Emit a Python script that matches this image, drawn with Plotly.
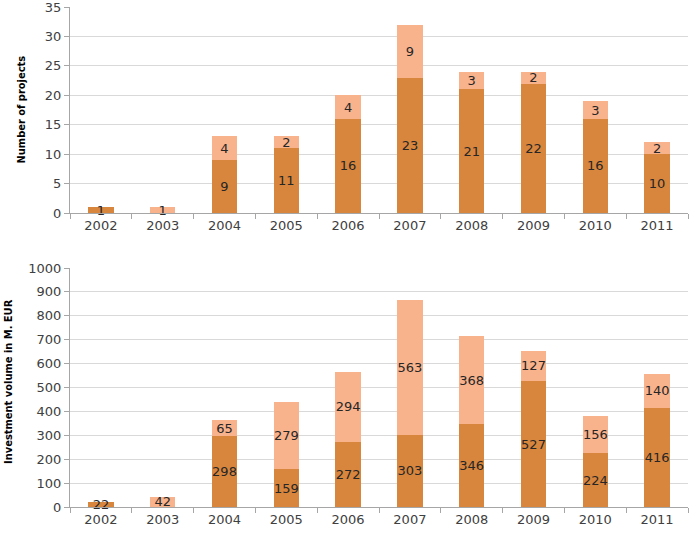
import plotly.graph_objects as go
from plotly.subplots import make_subplots

years = ["2002", "2003", "2004", "2005", "2006", "2007", "2008", "2009", "2010", "2011"]
projects_dark = [1, 0, 9, 11, 16, 23, 21, 22, 16, 10]
projects_light = [0, 1, 4, 2, 4, 9, 3, 2, 3, 2]
invest_dark = [22, 0, 298, 159, 272, 303, 346, 527, 224, 416]
invest_light = [0, 42, 65, 279, 294, 563, 368, 127, 156, 140]

DARK = "#D8853D"
LIGHT = "#F8B28C"

def lbl(vals):
    return [str(v) if v else "" for v in vals]

fig = make_subplots(rows=2, cols=1, vertical_spacing=0.11)

W, H = 695, 542
ml, mr, mt, mb = 70, 7, 7, 35
pw = W - ml - mr
ph = H - mt - mb

bar_kw = dict(width=0.41, textposition="inside", insidetextanchor="middle",
              constraintext="none", textangle=0,
              textfont=dict(family="DejaVu Sans", size=13, color="#262626"),
              hoverinfo="skip", cliponaxis=False)

fig.add_trace(go.Bar(x=years, y=projects_dark, marker_color=DARK, text=lbl(projects_dark), **bar_kw), row=1, col=1)
fig.add_trace(go.Bar(x=years, y=projects_light, marker_color=LIGHT, text=lbl(projects_light), **bar_kw), row=1, col=1)
fig.add_trace(go.Bar(x=years, y=invest_dark, marker_color=DARK, text=lbl(invest_dark), **bar_kw), row=2, col=1)
fig.add_trace(go.Bar(x=years, y=invest_light, marker_color=LIGHT, text=lbl(invest_light), **bar_kw), row=2, col=1)

for tr in fig.data:
    tr.marker.line.width = 0

tickfont = dict(family="DejaVu Sans", size=13, color="#404040")
top_dom = [(H - mb - 213) / ph, 1.0]
bot_dom = [0.0, (H - mb - 268) / ph]

fig.update_layout(
    barmode="stack",
    width=W, height=H,
    margin=dict(l=ml, r=mr, t=mt, b=mb, autoexpand=False),
    plot_bgcolor="white", paper_bgcolor="white",
    showlegend=False,
    xaxis=dict(domain=[0, 1]),
    xaxis2=dict(domain=[0, 1]),
    yaxis=dict(domain=top_dom, range=[0, 35], dtick=5),
    yaxis2=dict(domain=bot_dom, range=[0, 1000], dtick=100),
)

for ax in ["xaxis", "xaxis2"]:
    fig.layout[ax].update(showline=True, linecolor="#A6A6A6", linewidth=1,
                          ticks="outside", tickson="boundaries", ticklen=5,
                          tickcolor="#A6A6A6", tickfont=tickfont, showgrid=False,
                          automargin=False, ticklabeloverflow="allow")
for ax in ["yaxis", "yaxis2"]:
    fig.layout[ax].update(showline=True, linecolor="#A6A6A6", linewidth=1,
                          ticks="outside", ticklen=5, tickcolor="#A6A6A6",
                          tickfont=tickfont, showgrid=True, gridcolor="#D9D9D9",
                          gridwidth=1, zeroline=False, automargin=False,
                          ticklabeloverflow="allow")

title_font = dict(family="Liberation Sans Narrow, DejaVu Sans Condensed", size=11, color="#000000")
fig.add_annotation(text="<b>Number of projects</b>", textangle=-90, xref="paper", yref="paper",
                   x=(21.5 - ml) / pw, y=(H - mb - 110) / ph, xanchor="center", yanchor="middle",
                   showarrow=False, font=title_font)
fig.add_annotation(text="<b>Investment volume in M. EUR</b>", textangle=-90, xref="paper", yref="paper",
                   x=(8 - ml) / pw, y=(H - mb - 382) / ph, xanchor="center", yanchor="middle",
                   showarrow=False, font=title_font)

fig.write_html("out.html")
